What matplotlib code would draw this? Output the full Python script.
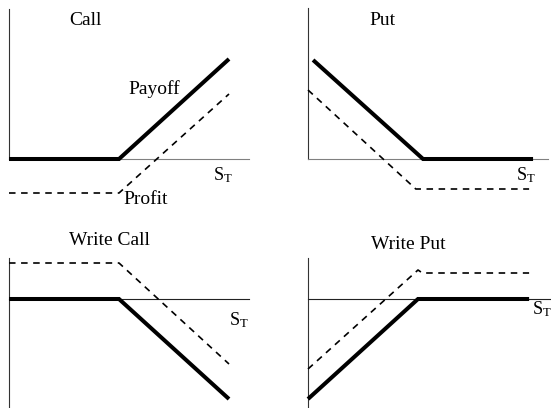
import matplotlib
matplotlib.use("Agg")
import matplotlib.pyplot as plt

plt.rcParams['font.family'] = ['Liberation Serif', 'DejaVu Serif']
plt.rcParams['mathtext.fontset'] = 'custom'
plt.rcParams['mathtext.rm'] = 'Liberation Serif'
plt.rcParams['mathtext.it'] = 'Liberation Serif:italic'
plt.rcParams['lines.scale_dashes'] = False

# ---------------- data (S_T on x, value on y) ----------------
titles = ["Call", "Put", "Write Call", "Write Put"]

call_payoff_S = [0, 50, 100]
call_payoff = [0, 0, 50]
call_profit_S = [0, 50, 100]
call_profit = [-17, -17, 32.5]

put_payoff_S = [2.3, 52.3, 102.3]
put_payoff = [49.5, 0, 0]
put_profit_S = [0, 49, 100.5]
put_profit = [34.5, -15, -15]

wcall_payoff_S = [0, 50, 100]
wcall_payoff = [0, 0, -50]
wcall_profit_S = [0, 50, 100]
wcall_profit = [18, 18, -32.5]

wput_payoff_S = [0, 50, 100.5]
wput_payoff = [-50, 0, 0]
wput_profit_S = [0, 50, 52, 100.5]
wput_profit = [-35, 14.5, 13, 13]

# ---------------- layout ----------------
W, H, DPI = 551, 408, 100
fig = plt.figure(figsize=(W / DPI, H / DPI), dpi=DPI)
fig.patch.set_facecolor('white')

SX, SY = 2.2, 2.0  # pixels per data unit


def px2fig(x, y):
    return x / W, 1 - y / H


def make_panel(box, origin, vbounds, sbound, hcolor):
    x0, y0, x1, y1 = box
    ox, oy = origin
    ax = fig.add_axes([x0 / W, 1 - y1 / H, (x1 - x0) / W, (y1 - y0) / H])
    ax.set_xlim((x0 - ox) / SX, (x1 - ox) / SX)
    ax.set_ylim((oy - y1) / SY, (oy - y0) / SY)
    ax.patch.set_alpha(0)
    for s in ['top', 'right']:
        ax.spines[s].set_visible(False)
    ax.spines['left'].set_position(('data', 0))
    ax.spines['left'].set_bounds(*vbounds)
    ax.spines['left'].set_color('#333333')
    ax.spines['left'].set_linewidth(0.8)
    ax.spines['bottom'].set_position(('data', 0))
    ax.spines['bottom'].set_bounds(0, sbound)
    ax.spines['bottom'].set_color(hcolor)
    ax.spines['bottom'].set_linewidth(0.8)
    ax.set_xticks([])
    ax.set_yticks([])
    return ax


def draw(ax, pS, pv, qS, qv):
    ax.plot(pS, pv, color='black', lw=2.9, solid_capstyle='butt',
            solid_joinstyle='miter', clip_on=False, zorder=3)
    ax.plot(qS, qv, color='black', lw=1.2, dashes=(4.7, 4.0),
            clip_on=False, zorder=3)


ax1 = make_panel((0, 0, 275, 204), (9, 159), (0, 75), 109, '#808080')
draw(ax1, call_payoff_S, call_payoff, call_profit_S, call_profit)

ax2 = make_panel((275, 0, 551, 204), (308, 159), (0, 75.5), 109, '#808080')
draw(ax2, put_payoff_S, put_payoff, put_profit_S, put_profit)

ax3 = make_panel((0, 204, 275, 408), (9, 299), (-54, 20.5), 109, '#222222')
draw(ax3, wcall_payoff_S, wcall_payoff, wcall_profit_S, wcall_profit)

ax4 = make_panel((275, 204, 551, 408), (308, 299), (-54, 20.5), 112, '#222222')
draw(ax4, wput_payoff_S, wput_payoff, wput_profit_S, wput_profit)

# ---------------- text ----------------
FS = 14
ST = r'$\mathrm{S}_{\mathrm{T}}$'


def label(x, y, s, size=FS):
    fx, fy = px2fig(x, y)
    fig.text(fx, fy, s, fontsize=size, ha='left', va='baseline', color='black')


label(69, 25, titles[0])
label(128, 94, "Payoff")
label(123, 204, "Profit")
label(213, 180, ST, 13)

label(369, 25, titles[1])
label(516, 180, ST, 13)

label(69, 245, titles[2])
label(229, 325, ST, 13)

label(371, 249, titles[3])
label(532, 314, ST, 13)

fig.savefig("out.png", dpi=DPI, facecolor='white')
